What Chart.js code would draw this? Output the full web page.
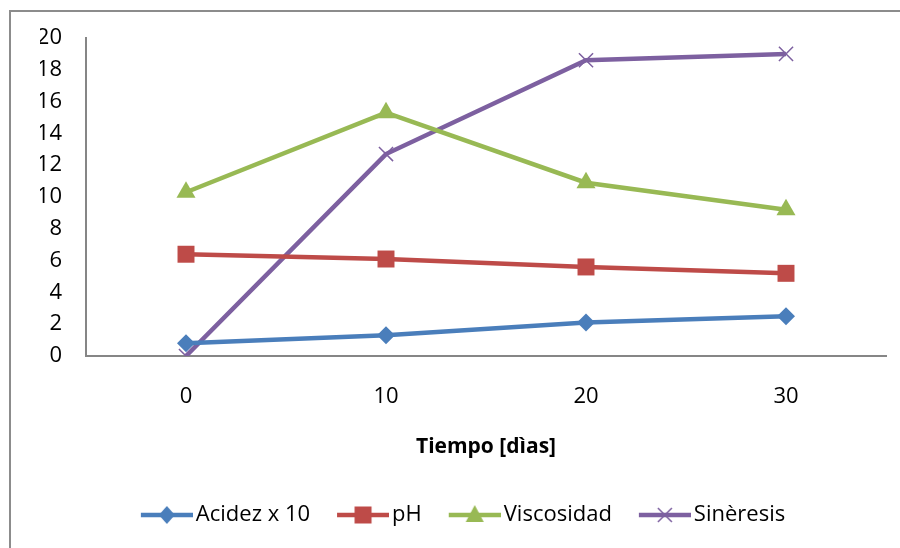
<!DOCTYPE html>
<html>
<head>
<meta charset="utf-8">
<script src="https://cdn.jsdelivr.net/npm/chart.js@4.4.1/dist/chart.umd.min.js"></script>
<style>
  html, body { margin: 0; padding: 0; background: #fff; }
  #wrap { position: relative; width: 900px; height: 548px; overflow: hidden; }
  #frame { position: absolute; left: 9px; top: 10px; width: 900px; height: 600px;
           border-left: 2px solid #8c8c8c; border-top: 2px solid #8c8c8c; }
  canvas { position: absolute; left: 0; top: 0; }
</style>
</head>
<body>
<div id="wrap">
  <div id="frame"></div>
  <canvas id="grafico" width="900" height="548"></canvas>
</div>
<script>
/* Datos */
const dias = ['0', '10', '20', '30'];
const acidez = [0.8, 1.3, 2.1, 2.5];
const ph = [6.4, 6.1, 5.6, 5.2];
const viscosidad = [10.3, 15.3, 10.9, 9.2];
const sineresis = [0, 12.7, 18.6, 19.0];
const yTicks = [0, 2, 4, 6, 8, 10, 12, 14, 16, 18, 20];

const fuente = "'Open Sans', 'Liberation Sans', sans-serif";

// icono de la leyenda: linea con el marcador al medio
function iconoLeyenda(color, estilo) {
  let c = document.createElement('canvas');
  c.width = 60;
  c.height = 24;
  let ctx = c.getContext('2d');
  ctx.strokeStyle = color;
  ctx.fillStyle = color;
  ctx.lineWidth = 4.5;
  ctx.beginPath();
  ctx.moveTo(8, 12);
  ctx.lineTo(60, 12);
  ctx.stroke();
  let cx = 34, cy = 12;
  ctx.beginPath();
  if (estilo == 'rectRot') {
    ctx.moveTo(cx, cy - 9); ctx.lineTo(cx + 8, cy); ctx.lineTo(cx, cy + 9); ctx.lineTo(cx - 8, cy);
    ctx.closePath(); ctx.fill();
  } else if (estilo == 'rect') {
    ctx.rect(cx - 8.5, cy - 8.5, 17, 17); ctx.fill();
  } else if (estilo == 'triangle') {
    ctx.moveTo(cx, cy - 10); ctx.lineTo(cx + 9, cy + 7); ctx.lineTo(cx - 9, cy + 7);
    ctx.closePath(); ctx.fill();
  } else {
    ctx.lineWidth = 1.5;
    ctx.moveTo(cx - 7, cy - 7); ctx.lineTo(cx + 7, cy + 7);
    ctx.moveTo(cx + 7, cy - 7); ctx.lineTo(cx - 7, cy + 7);
    ctx.stroke();
  }
  return c;
}

const series = [
  { label: 'Acidez x 10', data: acidez, color: '#4a7ebb', estilo: 'rectRot', radio: 9 },
  { label: 'pH', data: ph, color: '#be4b48', estilo: 'rect', radio: 12 },
  { label: 'Viscosidad', data: viscosidad, color: '#98b954', estilo: 'triangle', radio: 11 },
  { label: 'Sinèresis', data: sineresis, color: '#7d60a0', estilo: 'crossRot', radio: 10 }
];

const datasets = series.map(s => ({
  label: s.label,
  data: s.data,
  borderColor: s.color,
  backgroundColor: s.color,
  borderWidth: 4.5,
  pointStyle: s.estilo,
  pointRadius: s.radio,
  pointBorderWidth: s.estilo == 'crossRot' ? 1.5 : 0,
  pointBorderColor: s.color,
  pointBackgroundColor: s.color,
  tension: 0
}));

new Chart(document.getElementById('grafico'), {
  type: 'line',
  data: { labels: dias, datasets: datasets },
  options: {
    responsive: false,
    animation: false,
    layout: { padding: { left: 40, right: 14, top: 38, bottom: 12 } },
    plugins: {
      tooltip: { enabled: false },
      legend: {
        position: 'bottom',
        labels: {
          usePointStyle: true,
          pointStyleWidth: 44,
          padding: 27,
          color: '#000',
          font: { family: fuente, size: 22 },
          generateLabels: function (chart) {
            return series.map((s, i) => ({
              text: s.label,
              pointStyle: iconoLeyenda(s.color, s.estilo),
              fillStyle: s.color,
              strokeStyle: s.color,
              lineWidth: 0,
              hidden: false,
              datasetIndex: i
            }));
          }
        }
      }
    },
    scales: {
      x: {
        offset: true,
        afterFit: function (scale) { scale.height = 121; },
        grid: { display: false, drawTicks: false },
        border: { display: true, color: '#868686', width: 2 },
        ticks: { color: '#000', padding: 28, font: { family: fuente, size: 22 } },
        title: {
          display: true,
          text: 'Tiempo [dìas]',
          color: '#000',
          font: { family: fuente, size: 21, weight: 'bold' },
          padding: { top: 0, bottom: 17 }
        }
      },
      y: {
        min: 0,
        max: 20,
        afterFit: function (scale) { scale.width = 46; },
        afterBuildTicks: function (scale) { scale.ticks = yTicks.map(v => ({ value: v })); },
        grid: { display: false, drawTicks: false },
        border: { display: true, color: '#868686', width: 2 },
        ticks: { color: '#000', padding: 24, font: { family: fuente, size: 22 } }
      }
    }
  }
});
</script>
</body>
</html>
